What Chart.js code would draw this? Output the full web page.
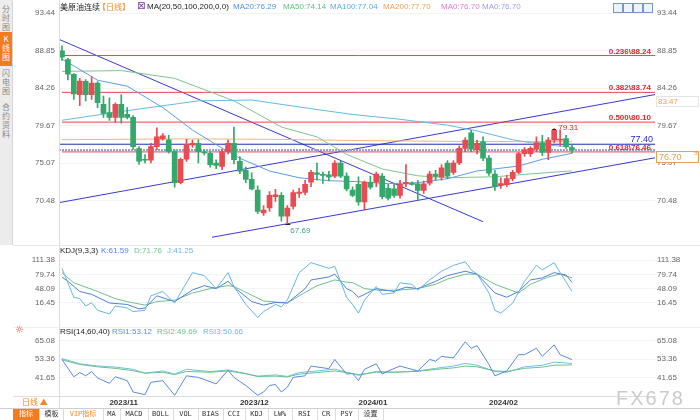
<!DOCTYPE html>
<html>
<head>
<meta charset="utf-8">
<script src="https://cdn.jsdelivr.net/npm/chart.js@4.4.1/dist/chart.umd.min.js"></script>
<style>
  body { margin: 0; background: #fff; }
  #wrap { position: relative; width: 700px; height: 420px; overflow: hidden; font-family: "Liberation Sans", "Noto Sans CJK SC", sans-serif; }
  canvas { position: absolute; left: 0; }
  .txt { position: absolute; font-size: 8px; line-height: 10px; white-space: nowrap; }
  .cjk { font-family: "Noto Sans CJK SC", sans-serif; }
  .side { position: absolute; left: 0; width: 12px; font-size: 8px; line-height: 9px; text-align: center; color: #888; font-family: "Noto Sans CJK SC", sans-serif; }
  .tb { position: absolute; top: 409px; height: 11px; font-size: 7px; line-height: 11px; text-align: center; border-right: 1px solid #ddd; color: #333; font-family: "DejaVu Sans Mono", "Noto Sans CJK SC", monospace; }
  .ico { position: absolute; top: 3px; width: 8px; height: 8px; border: 1px solid #7a96c8; background: #eef3fb; }
</style>
</head>
<body>
<div id="wrap">
  <!-- left tabs -->
  <div style="position:absolute;left:0;top:0;width:12px;height:245px;background:#ececec;border-right:1px solid #d6d6d6;"></div>
  <div class="side" style="top:4px;">分<br>时<br>图</div>
  <div class="side" style="top:32px;height:34px;background:#f47b20;color:#fff;padding-top:2px;box-sizing:border-box;">K<br>线<br>图</div>
  <div class="side" style="top:68px;">闪<br>电<br>图</div>
  <div class="side" style="top:102px;">合<br>约<br>资<br>料</div>

  <canvas id="main" width="700" height="248" style="top:0"></canvas>
  <canvas id="kdj" width="700" height="80" style="top:248px"></canvas>
  <canvas id="rsi" width="700" height="80" style="top:328px"></canvas>

  <!-- frame lines -->
  <div style="position:absolute;left:59px;top:0;width:1px;height:408px;background:#dcdcdc;"></div>
  <div style="position:absolute;left:13px;top:245px;width:687px;height:1px;background:#e6e6e6;"></div>
  <div style="position:absolute;left:13px;top:327px;width:687px;height:1px;background:#efefef;"></div>

  <!-- main header -->
  <div class="txt cjk" style="left:60px;top:2px;color:#222;">美原油连续</div>
  <div class="txt cjk" style="left:98px;top:2px;color:#f08a24;">【日线】</div>
  <div class="txt" style="left:137px;top:1px;color:#7b3c9a;font-size:10px;font-family:'DejaVu Sans';">⊠</div>
  <div class="txt" style="left:147px;top:2px;color:#222;">MA(20,50,100,200,0,0)</div>
  <div class="txt" style="left:233px;top:2px;color:#4d94e6;">MA20:76.29</div>
  <div class="txt" style="left:283px;top:2px;color:#5cbf7c;">MA50:74.14</div>
  <div class="txt" style="left:330px;top:2px;color:#58b0e0;">MA100:77.04</div>
  <div class="txt" style="left:383px;top:2px;color:#f0a05a;">MA200:77.70</div>
  <div class="txt" style="left:441px;top:2px;color:#de7ad6;">MA0:76.70</div>
  <div class="txt" style="left:482px;top:2px;color:#9b9ff0;">MA0:76.70</div>
  <div class="ico" style="left:613px;"></div>
  <div class="ico" style="left:623px;"></div>
  <div class="ico" style="left:633px;"></div>
  <div class="ico" style="left:643px;"></div>
  <div class="txt" style="left:694px;top:148px;color:#f0a048;font-size:8px;">±</div>

  <!-- KDJ header -->
  <div class="txt" style="left:60px;top:246px;color:#222;">KDJ(9,3,3)</div>
  <div class="txt" style="left:101px;top:246px;color:#4f86dc;">K:61.59</div>
  <div class="txt" style="left:134px;top:246px;color:#72c48e;">D:71.76</div>
  <div class="txt" style="left:167px;top:246px;color:#6cb4e4;">J:41.25</div>

  <!-- RSI header -->
  <div class="txt" style="left:15px;top:325px;color:#e0504a;font-size:10px;font-family:'DejaVu Sans';">☼</div>
  <div class="txt" style="left:60px;top:327px;color:#222;">RSI(14,60,40)</div>
  <div class="txt" style="left:112px;top:327px;color:#5d8ee0;">RSI1:53.12</div>
  <div class="txt" style="left:157px;top:327px;color:#66c088;">RSI2:49.69</div>
  <div class="txt" style="left:203px;top:327px;color:#6fb8e6;">RSI3:50.66</div>

  <!-- bottom bar -->
  <div style="position:absolute;left:13px;top:396px;width:46px;height:12px;border-top:1px solid #ddd;box-sizing:border-box;"></div>
  <div class="txt cjk" style="left:22px;top:397px;color:#f08a24;">日线 ▲</div>
  <div style="position:absolute;left:0;top:408px;width:700px;height:1px;background:#cfcfcf;"></div>
  <div class="tb cjk" style="left:13px;width:26px;background:#f47b20;color:#fff;">指标</div>
  <div class="tb cjk" style="left:40px;width:23px;">模板</div>
  <div class="tb cjk" style="left:63px;width:40px;color:#f08a24;">VIP指标</div>
  <div class="tb" style="left:103px;width:17px;">MA</div>
  <div class="tb" style="left:120px;width:28px;">MACD</div>
  <div class="tb" style="left:148px;width:25px;">BOLL</div>
  <div class="tb" style="left:173px;width:25px;">VOL</div>
  <div class="tb" style="left:198px;width:25px;">BIAS</div>
  <div class="tb" style="left:223px;width:22px;">CCI</div>
  <div class="tb" style="left:245px;width:23px;">KDJ</div>
  <div class="tb" style="left:268px;width:24px;">LW%</div>
  <div class="tb" style="left:292px;width:25px;">RSI</div>
  <div class="tb" style="left:317px;width:18px;">CR</div>
  <div class="tb" style="left:335px;width:23px;">PSY</div>
  <div class="tb cjk" style="left:358px;width:25px;">设置</div>

  <div class="txt" style="left:616px;top:386px;font-size:20px;line-height:24px;letter-spacing:2px;color:#cbcbcb;">FX678</div>
</div>

<script>
// daily bars, 2023-10-20 .. 2024-02-21 (index 0 .. 86)
const opens = [
  88.83, 87.75, 85.93, 83.46, 85.10, 83.46, 84.86, 82.27, 81.28, 80.69,
  82.27, 81.04, 80.69, 76.87, 75.56, 75.44, 77.11, 78.06, 77.95, 76.51,
  72.70, 75.56, 77.30, 77.50, 76.45, 76.30, 75.10, 74.70, 76.50, 77.50,
  75.30, 74.20, 73.10, 71.80, 69.00, 69.60, 71.00, 71.15, 68.60, 69.80,
  71.40, 71.50, 72.75, 73.90, 73.70, 73.65, 73.50, 75.10, 73.50, 71.80,
  72.50, 70.35, 72.75, 72.75, 73.50, 72.00, 71.95, 71.15, 72.55, 72.60,
  72.55, 71.75, 72.65, 73.75, 73.40, 75.10, 73.95, 75.10, 76.90, 78.80,
  76.70, 77.70, 75.70, 73.75, 72.45, 72.45, 73.20, 73.95, 76.25, 76.25,
  76.80, 77.60, 76.40, 77.90, 77.90, 78.10, 77.00
];
const highs = [
  89.42, 87.90, 86.05, 85.45, 85.30, 85.66, 85.06, 83.27, 83.07, 82.47,
  83.47, 81.88, 80.89, 77.11, 76.12, 77.50, 79.40, 78.70, 78.50, 76.72,
  75.72, 78.00, 77.90, 77.95, 76.70, 76.50, 75.50, 76.80, 77.90, 79.50,
  75.90, 74.60, 73.90, 72.30, 69.90, 71.60, 71.90, 71.50, 69.90, 71.80,
  72.00, 73.00, 74.20, 75.10, 74.00, 74.10, 75.40, 75.30, 73.90, 72.20,
  73.40, 72.90, 73.50, 74.00, 73.80, 72.50, 72.60, 73.00, 74.90, 72.80,
  73.00, 72.90, 74.10, 74.20, 74.90, 75.40, 75.40, 77.20, 78.20, 79.10,
  77.90, 78.30, 76.00, 74.20, 73.30, 73.60, 74.20, 76.40, 77.00, 77.10,
  78.30, 78.50, 78.20, 79.31, 79.10, 78.50, 77.30
];
const lows = [
  87.64, 85.25, 82.87, 82.12, 82.68, 82.87, 81.88, 80.69, 80.30, 80.09,
  79.97, 80.48, 76.80, 74.93, 75.12, 75.12, 76.72, 77.90, 76.30, 72.14,
  72.55, 75.30, 77.00, 75.10, 76.10, 74.60, 74.40, 74.30, 76.20, 75.00,
  73.80, 72.70, 71.80, 68.90, 68.70, 69.20, 70.40, 68.00, 67.69, 69.50,
  70.90, 71.20, 72.20, 73.00, 72.60, 72.90, 73.30, 73.30, 71.70, 71.00,
  69.95, 69.36, 71.90, 72.20, 70.70, 70.60, 70.90, 70.80, 72.20, 72.40,
  70.55, 71.40, 72.40, 73.00, 73.00, 73.20, 73.70, 74.90, 76.50, 76.50,
  76.20, 75.40, 73.60, 71.75, 72.00, 72.20, 72.90, 73.80, 75.90, 75.90,
  76.50, 76.00, 75.50, 77.60, 77.20, 76.90, 76.30
];
const closes = [
  88.04, 85.97, 83.55, 85.13, 83.46, 84.86, 82.47, 81.16, 80.69, 82.27,
  80.69, 80.69, 77.11, 75.32, 75.44, 77.11, 78.30, 78.42, 76.51, 72.70,
  75.56, 77.35, 77.50, 76.50, 76.35, 74.90, 74.80, 76.50, 77.50, 75.50,
  74.10, 73.10, 71.95, 69.20, 69.35, 71.15, 71.20, 68.60, 69.60, 71.50,
  71.55, 72.50, 73.95, 73.70, 73.60, 73.40, 75.10, 73.50, 71.95, 71.15,
  70.35, 72.75, 72.15, 73.75, 71.00, 70.80, 71.15, 72.50, 72.75, 72.50,
  71.75, 72.55, 73.75, 73.45, 74.50, 73.50, 75.10, 76.90, 77.90, 76.80,
  77.50, 75.70, 73.85, 72.25, 72.60, 73.20, 73.95, 76.25, 76.70, 76.90,
  77.60, 76.40, 77.90, 79.10, 78.00, 77.10, 76.70
];

const monthTicks = [8, 30, 50, 72];
const monthLabels = ['2023/11', '2023/12', '2024/01', '2024/02'];

const priceTicks = [93.44, 88.85, 84.26, 79.67, 75.07, 70.48];
const kdjTicks = [111.38, 79.74, 48.09, 16.45];
const rsiTicks = [65.08, 53.36, 41.65];

const fibRatios = ['0.236', '0.382', '0.500', '0.618'];
const fibLevels = [88.24, 83.74, 80.10, 76.46];
const lastPrice = 76.70;
const resistLine = 77.40;
const markHigh = 83;   // bar carrying the 79.31 tag
const markLow = 38;    // bar carrying the 67.69 tag

// drawn trend lines: [bar index], [price]
const trendDownX = [-0.5, 71];
const trendDownY = [90.22, 67.93];
const channelTopX = [-0.5, 100];
const channelTopY = [70.26, 83.47];
const channelLowX = [25.3, 100];
const channelLowY = [66.03, 75.74];

// moving averages, read at sample bars
const ma20X = [0, 6, 11, 17, 22, 26, 30, 35, 40, 45, 50, 55, 60, 65, 70, 77, 81, 86];
const ma20 = [87.84, 85.22, 84.50, 81.88, 79.14, 77.35, 75.68, 74.13, 73.30, 72.94, 72.82, 72.58, 72.70, 73.18, 74.13, 74.73, 75.56, 76.29];
const ma50X = [0, 10, 19, 29, 37, 43, 48, 54, 60, 65, 73, 79, 86];
const ma50 = [86.30, 86.40, 85.45, 82.70, 79.50, 78.30, 76.16, 74.37, 73.54, 73.30, 73.42, 73.77, 74.14];
const ma100X = [0, 11, 23, 32, 43, 49, 57, 65, 70, 76, 81, 86];
const ma100 = [80.33, 81.50, 82.70, 82.80, 81.64, 81.04, 80.45, 79.73, 79.02, 77.95, 77.35, 77.04];
const ma200X = [0, 20, 35, 50, 65, 86];
const ma200 = [77.95, 78.05, 78.00, 77.85, 77.75, 77.70];

// KDJ(9,3,3)
const kX = [0, 1, 3, 5, 8, 11, 13, 14, 16, 19, 22, 24, 26, 28, 29, 32, 34, 36, 38, 41, 42, 45, 46, 48, 49, 50, 53, 56, 58, 60, 63, 65, 68, 70, 73, 75, 77, 79, 81, 83, 85, 86];
const kVal = [73.7, 63.9, 41.1, 34.6, 15.1, 11.8, 2.0, 4.0, 31.3, 18.2, 44.4, 54.2, 47.5, 63.9, 50.8, 18.2, 10.4, 16.3, 15.1, 47.5, 67.0, 73.7, 80.1, 47.5, 41.1, 28.0, 47.5, 41.1, 50.8, 47.5, 63.9, 76.8, 86.6, 80.1, 37.7, 28.0, 41.1, 67.0, 71.7, 83.5, 78.2, 61.59];
const dX = [0, 2, 6, 9, 11, 14, 16, 19, 22, 25, 28, 29, 32, 34, 38, 40, 43, 46, 48, 49, 51, 54, 57, 60, 63, 65, 68, 70, 73, 77, 79, 82, 84, 86];
const dVal = [83.5, 60.6, 41.1, 24.9, 18.2, 10.4, 18.2, 21.5, 37.7, 47.5, 54.2, 52.2, 32.7, 19.6, 15.1, 31.3, 54.2, 67.0, 62.0, 61.0, 47.5, 43.0, 44.4, 47.5, 57.3, 69.0, 80.1, 80.1, 57.3, 37.7, 57.3, 73.7, 80.1, 71.76];
const jX = [0, 2, 3, 4, 5, 6, 8, 9, 11, 12, 14, 15, 17, 19, 22, 24, 26, 28, 29, 31, 33, 34, 36, 37, 38, 40, 42, 45, 46, 48, 49, 50, 51, 53, 54, 56, 57, 59, 60, 62, 63, 64, 66, 68, 69, 70, 72, 73, 74, 76, 78, 80, 81, 83, 84, 86];
const jVal = [93.2, 28.0, 24.9, 8.5, 15.7, -1.3, -9.7, 8.5, 4.0, -4.4, -1.3, 31.3, 41.1, 15.1, 83.5, 76.8, 47.5, 83.5, 52.2, 11.8, -17.5, -4.4, 11.8, 6.5, 21.5, 83.5, 106.1, 93.2, 97.7, 28.0, 11.8, -7.8, 21.5, 52.2, 34.6, 37.7, 60.6, 57.3, 44.4, 67.0, 76.8, 86.6, 99.7, 108.1, 89.9, 80.1, 37.7, -1.3, -7.8, 15.1, 63.9, 99.7, 89.9, 106.1, 83.5, 41.25];

// RSI(14,60,40)
const rsi1X = [0, 2, 3, 4, 5, 6, 8, 9, 11, 12, 14, 15, 17, 19, 21, 23, 26, 28, 29, 31, 33, 34, 35, 36, 37, 38, 39, 41, 42, 43, 45, 46, 48, 49, 50, 51, 53, 54, 55, 57, 60, 62, 63, 64, 66, 68, 69, 70, 72, 73, 75, 77, 78, 80, 81, 83, 84, 86];
const rsi1 = [53.2, 42.1, 44.8, 42.7, 45.4, 41.3, 37.9, 42.1, 39.6, 32.3, 30.6, 38.5, 39.6, 30.2, 42.7, 41.7, 37.5, 46.3, 41.7, 36.5, 30.2, 32.3, 36.5, 37.1, 32.3, 35.4, 41.7, 42.7, 49.0, 48.4, 47.3, 53.2, 43.8, 44.2, 39.6, 46.9, 50.4, 43.8, 45.8, 49.0, 45.8, 53.2, 52.1, 55.2, 54.2, 64.6, 60.4, 62.1, 50.0, 42.7, 45.8, 56.3, 56.3, 60.4, 55.2, 62.6, 56.3, 53.12];
const rsiSlowX = [0, 3, 6, 9, 12, 14, 17, 19, 21, 25, 28, 31, 33, 36, 38, 40, 43, 46, 48, 50, 53, 56, 60, 63, 66, 68, 70, 73, 75, 78, 81, 83, 86];
const rsi2 = [53.0, 50.0, 48.5, 47.5, 46.0, 44.4, 45.0, 43.5, 45.5, 45.0, 45.8, 44.0, 42.3, 42.5, 42.0, 43.8, 44.8, 45.8, 44.8, 43.5, 45.0, 45.0, 45.6, 46.8, 47.8, 49.0, 48.5, 45.8, 45.5, 47.5, 48.3, 49.5, 49.69];
const rsi3 = [53.8, 50.4, 49.0, 48.3, 46.9, 44.4, 45.8, 43.8, 46.9, 45.4, 46.5, 44.2, 42.5, 43.3, 42.3, 44.8, 45.8, 47.0, 45.0, 43.0, 45.5, 45.0, 45.8, 47.5, 49.0, 50.7, 49.5, 45.5, 45.0, 48.5, 49.5, 51.5, 50.66];

const RED = '#ea4a52';
const GREEN = '#33a86a';
const candleColors = closes.map((c, i) => c >= opens[i] ? RED : GREEN);

function pts(xs, ys) {
    return xs.map((x, i) => ({ x: x, y: ys[i] }));
}

function line(data, color, extra) {
    return Object.assign({
        type: 'line',
        data: data,
        borderColor: color,
        borderWidth: 1,
        pointRadius: 0,
        tension: 0,
        fill: false,
        order: 2
    }, extra || {});
}

function yAxis(pos, min, max, ticks, grid) {
    return {
        position: pos,
        min: min,
        max: max,
        afterBuildTicks: s => { s.ticks = ticks.map(v => ({ value: v })); },
        afterFit: s => { s.width = pos === 'left' ? 59 : 45; },
        grid: { display: grid, color: '#f3f3f3', drawTicks: false },
        border: { display: false },
        ticks: {
            padding: pos === 'left' ? 4 : 2,
            color: '#666',
            font: { size: 8, family: 'Liberation Sans' },
            callback: v => v.toFixed(2)
        }
    };
}

const xHidden = { type: 'linear', min: -0.5, max: 100, display: false, offset: false };

const baseOptions = {
    responsive: false,
    animation: false,
    events: [],
    plugins: { legend: { display: false }, tooltip: { enabled: false } }
};

// text marks on the price panel
const priceMarks = {
    id: 'priceMarks',
    afterDatasetsDraw(chart) {
        const { ctx, scales: { x, y } } = chart;
        ctx.save();
        ctx.textBaseline = 'alphabetic';

        ctx.font = 'bold 8px "Liberation Sans"';
        ctx.fillStyle = '#e2262c';
        ctx.textAlign = 'right';
        fibLevels.forEach((v, i) => {
            ctx.fillText(fibRatios[i] + '\\' + v.toFixed(2), 651, y.getPixelForValue(v) - 2);
        });

        ctx.font = '9px "Liberation Sans"';
        ctx.fillStyle = '#2b2bc6';
        ctx.fillText(resistLine.toFixed(2), 653, y.getPixelForValue(resistLine) - 2);

        // tagged high / low
        const hx = x.getPixelForValue(markHigh), hy = y.getPixelForValue(highs[markHigh]);
        const lx = x.getPixelForValue(markLow), ly = y.getPixelForValue(lows[markLow]);
        ctx.textAlign = 'left';
        ctx.font = '8px "Liberation Sans"';
        ctx.fillStyle = '#e2262c';
        ctx.fillText(highs[markHigh].toFixed(2), hx + 4, hy + 1);
        ctx.fillStyle = '#45a588';
        ctx.fillText(lows[markLow].toFixed(2), lx + 3, ly + 9);
        ctx.strokeStyle = '#222';
        ctx.lineWidth = 1;
        ctx.beginPath();
        ctx.moveTo(lx - 2, Math.round(ly) + 0.5);
        ctx.lineTo(lx + 3, Math.round(ly) + 0.5);
        ctx.moveTo(hx - 2, Math.round(hy) + 0.5);
        ctx.lineTo(hx + 2, Math.round(hy) + 0.5);
        ctx.stroke();

        // right side value boxes, hanging under their lines
        const yTop = Math.round(y.getPixelForValue(channelTopY[1]));
        ctx.strokeStyle = '#e4e4e4';
        ctx.fillStyle = '#fff';
        ctx.fillRect(656, yTop + 1, 43, 10);
        ctx.strokeRect(656.5, yTop + 1.5, 42, 10);
        ctx.fillStyle = '#f0a048';
        ctx.font = '8px "Liberation Sans"';
        ctx.fillText(channelTopY[1].toFixed(2), 658, yTop + 9);

        const yLast = Math.round(y.getPixelForValue(lastPrice));
        ctx.fillStyle = '#fff';
        ctx.fillRect(656, yLast + 1, 43, 12);
        ctx.strokeStyle = '#f0a048';
        ctx.strokeRect(656.5, yLast + 1.5, 42, 11);
        ctx.fillStyle = '#f0a048';
        ctx.font = '9px "Liberation Sans"';
        ctx.fillText(lastPrice.toFixed(2), 659, yLast + 10);
        ctx.restore();
    }
};

new Chart(document.getElementById('main'), {
    type: 'bar',
    data: {
        datasets: [
            {
                type: 'bar',
                data: opens.map((o, i) => ({ x: i, y: [o, closes[i]] })),
                backgroundColor: candleColors,
                barThickness: 5,
                minBarLength: 1,
                grouped: false,
                order: 0
            },
            {
                type: 'bar',
                data: lows.map((l, i) => ({ x: i, y: [l, highs[i]] })),
                backgroundColor: candleColors,
                barThickness: 1,
                grouped: false,
                order: 1
            },
            line(pts(ma20X, ma20), '#5a9de6'),
            line(pts(ma50X, ma50), '#7cc690'),
            line(pts(ma100X, ma100), '#62bbe0'),
            line(pts(ma200X, ma200), '#f4b473'),
            ...fibLevels.map(v => line(pts([0, 100], [v, v]), '#e8454a', { order: 3 })),
            line(pts([-0.5, 100], [resistLine, resistLine]), '#2424c0', { order: 3 }),
            line(pts([-0.5, 100], [lastPrice, lastPrice]), '#90a6c6', { borderWidth: 2, borderDash: [2, 1], order: 3 }),
            line(pts(trendDownX, trendDownY), '#3a3ad2', { order: 3 }),
            line(pts(channelTopX, channelTopY), '#3a3ad2', { order: 3 }),
            line(pts(channelLowX, channelLowY), '#3a3ad2', { order: 3 })
        ]
    },
    options: Object.assign({}, baseOptions, {
        layout: { padding: { top: 13, bottom: 3 } },
        scales: {
            x: xHidden,
            y: yAxis('left', 65.79, 93.44, priceTicks, true),
            yr: yAxis('right', 65.79, 93.44, priceTicks, false)
        }
    }),
    plugins: [priceMarks]
});

new Chart(document.getElementById('kdj'), {
    type: 'line',
    data: {
        datasets: [
            line(pts(jX, jVal), '#67b6e6'),
            line(pts(kX, kVal), '#4f80d8'),
            line(pts(dX, dVal), '#6fc08c')
        ]
    },
    options: Object.assign({}, baseOptions, {
        layout: { padding: { top: 7, bottom: 1 } },
        scales: {
            x: xHidden,
            y: yAxis('left', -21.4, 119.19, kdjTicks, true),
            yr: yAxis('right', -21.4, 119.19, kdjTicks, false)
        }
    })
});

new Chart(document.getElementById('rsi'), {
    type: 'line',
    data: {
        datasets: [
            line(pts(rsi1X, rsi1), '#5a8ae0'),
            line(pts(rsiSlowX, rsi2), '#6cc08a'),
            line(pts(rsiSlowX, rsi3), '#6cc0e4')
        ]
    },
    options: Object.assign({}, baseOptions, {
        layout: { padding: { top: 7, bottom: 0 } },
        scales: {
            x: {
                type: 'linear', min: -0.5, max: 100, offset: false,
                afterBuildTicks: s => { s.ticks = monthTicks.map(v => ({ value: v })); },
                afterFit: s => { s.height = 12; },
                grid: { display: false, drawTicks: false },
                border: { display: true, color: '#dcdcdc' },
                ticks: {
                    autoSkip: false, maxRotation: 0, align: 'start', padding: 2,
                    color: '#333', font: { size: 8, weight: 'bold', family: 'Liberation Sans' },
                    callback: v => monthLabels[monthTicks.indexOf(v)]
                }
            },
            y: yAxis('left', 29.74, 67.77, rsiTicks, true),
            yr: yAxis('right', 29.74, 67.77, rsiTicks, false)
        }
    })
});
</script>
</body>
</html>
